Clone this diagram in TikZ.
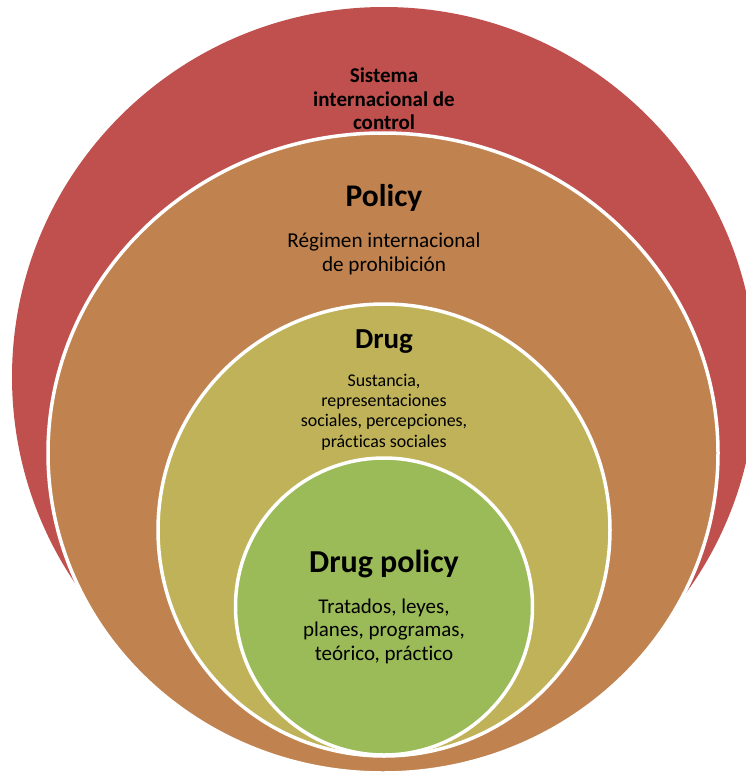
\documentclass[tikz,border=0pt]{standalone}
\usepackage{fontspec}
\setmainfont[Ligatures=NoCommon]{Carlito}
\usepackage{tikz}
\definecolor{ringred}{RGB}{192,80,77}
\definecolor{ringorange}{RGB}{192,131,80}
\definecolor{ringolive}{RGB}{191,178,88}
\definecolor{ringgreen}{RGB}{155,187,89}
\begin{document}
\begin{tikzpicture}[x=1pt,y=-1pt,
  ring/.style={draw=white,line width=3.5pt},
  title/.style={font=\bfseries,align=center,inner sep=0pt},
  body/.style={align=center,inner sep=0pt}]
\useasboundingbox (0,0) rectangle (745,774);
%sistema
\fill [ringred] (384,377) ellipse [x radius=372, y radius=370];
\node [title,font=\bfseries\fontsize{21}{23.5}\selectfont] (sistema) at (384,99) {Sistema\\internacional de\\control};
%policy
\filldraw [ring,fill=ringorange] (383,453) ellipse [x radius=335, y radius=320];
\node [title,font=\bfseries\fontsize{31.5}{36}\selectfont] (policy) at (384,198) {Policy};
\node [body,font=\fontsize{21.2}{24}\selectfont] (regimen) at (384,254) {Régimen internacional\\de prohibición};
%drug
\filldraw [ring,fill=ringolive] (384,530) circle [radius=226];
\node [title,font=\bfseries\fontsize{29}{32}\selectfont] (drug) at (384,342) {Drug};
\node [body,font=\fontsize{17.9}{20.3}\selectfont] (sustancia) at (384,412) {Sustancia,\\representaciones\\sociales, percepciones,\\prácticas sociales};
%drug policy
\filldraw [ring,fill=ringgreen] (384,606.5) circle [radius=148.5];
\node [title,font=\bfseries\fontsize{32}{35}\selectfont] (drugpolicy) at (384,564) {Drug policy};
\node [body,font=\fontsize{21}{23.5}\selectfont] (tratados) at (384,631) {Tratados, leyes,\\planes, programas,\\teórico, práctico};
\end{tikzpicture}
\end{document}
